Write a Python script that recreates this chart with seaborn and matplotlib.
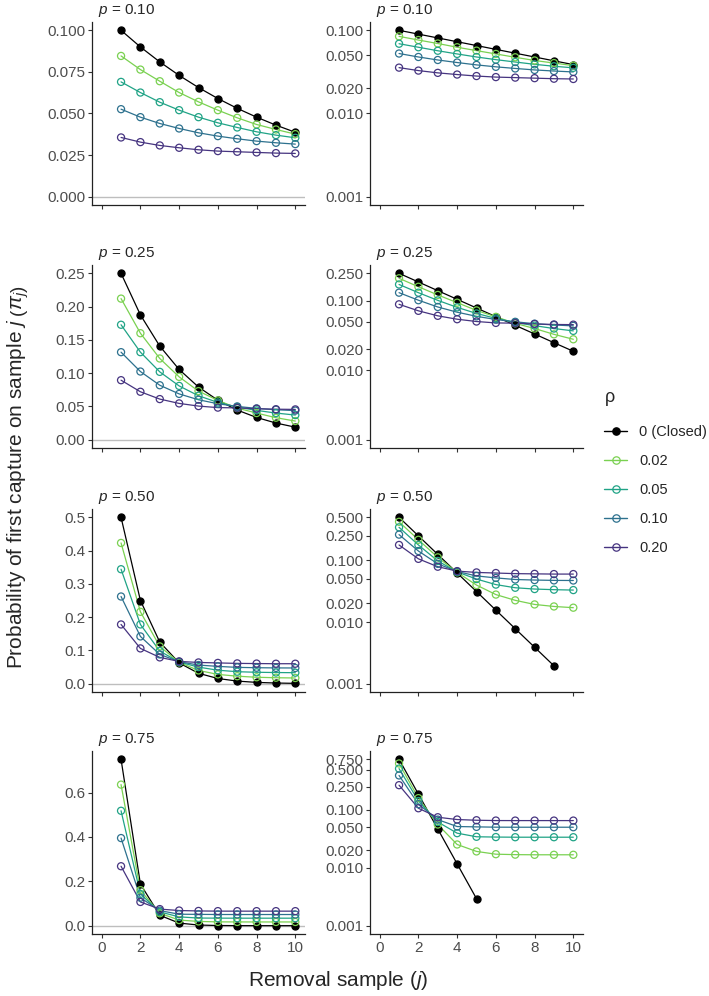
import numpy as np
import pandas as pd
import matplotlib
matplotlib.use("Agg")
import matplotlib.pyplot as plt
import seaborn as sns
from matplotlib.lines import Line2D
from matplotlib.ticker import FixedLocator, NullLocator, FormatStrFormatter

# removal samples and model settings
j_sample = [1, 2, 3, 4, 5, 6, 7, 8, 9, 10]
rho_labels = ["0 (Closed)", "0.02", "0.05", "0.10", "0.20"]
p_levels = [0.10, 0.25, 0.50, 0.75]
p_titles = ["0.10", "0.25", "0.50", "0.75"]

# probability of first capture on sample j, one row per rho
pi_p10 = [
    [0.1000, 0.0900, 0.0810, 0.0729, 0.0656, 0.0590, 0.0531, 0.0478, 0.0430, 0.0387],
    [0.0846, 0.0764, 0.0694, 0.0626, 0.0570, 0.0520, 0.0474, 0.0434, 0.0404, 0.0376],
    [0.0690, 0.0626, 0.0568, 0.0520, 0.0478, 0.0444, 0.0416, 0.0390, 0.0370, 0.0354],
    [0.0526, 0.0478, 0.0440, 0.0410, 0.0384, 0.0364, 0.0348, 0.0334, 0.0324, 0.0316],
    [0.0356, 0.0328, 0.0308, 0.0294, 0.0282, 0.0274, 0.0270, 0.0266, 0.0262, 0.0260],
]
pi_p25 = [
    [0.2500, 0.1875, 0.1406, 0.1055, 0.0791, 0.0593, 0.0445, 0.0334, 0.0250, 0.0188],
    [0.2120, 0.1600, 0.1220, 0.0944, 0.0730, 0.0590, 0.0475, 0.0400, 0.0330, 0.0280],
    [0.1727, 0.1315, 0.1019, 0.0808, 0.0660, 0.0560, 0.0490, 0.0440, 0.0400, 0.0370],
    [0.1315, 0.1024, 0.0818, 0.0688, 0.0600, 0.0540, 0.0500, 0.0470, 0.0450, 0.0437],
    [0.0894, 0.0720, 0.0610, 0.0545, 0.0505, 0.0482, 0.0478, 0.0465, 0.0458, 0.0455],
]
pi_p50 = [
    [0.5000, 0.2500, 0.1250, 0.0625, 0.03125, 0.0156, 0.0078, 0.0039, 0.00195, 0.00098],
    [0.4230, 0.2160, 0.1120, 0.0640, 0.0398, 0.0279, 0.0225, 0.0193, 0.0179, 0.0171],
    [0.3440, 0.1780, 0.0980, 0.0650, 0.0498, 0.0405, 0.0360, 0.0343, 0.0335, 0.0330],
    [0.2620, 0.1420, 0.0880, 0.0660, 0.0560, 0.0520, 0.0490, 0.0480, 0.0474, 0.0472],
    [0.1780, 0.1060, 0.0790, 0.0670, 0.0638, 0.0624, 0.0610, 0.0605, 0.0600, 0.0600],
]
pi_p75 = [
    [0.7500, 0.1875, 0.0469, 0.0117, 0.00293, 0.00073, 0.00018, 0.000046, 0.000011, 0.000003],
    [0.6360, 0.1600, 0.0560, 0.0253, 0.0192, 0.0172, 0.0169, 0.0168, 0.0168, 0.0168],
    [0.5180, 0.1430, 0.0620, 0.0397, 0.0344, 0.0340, 0.0338, 0.0338, 0.0338, 0.0338],
    [0.3950, 0.1260, 0.0680, 0.0517, 0.0510, 0.0504, 0.0503, 0.0503, 0.0503, 0.0503],
    [0.2680, 0.1070, 0.0748, 0.0683, 0.0664, 0.0656, 0.0655, 0.0655, 0.0655, 0.0655],
]

lin_breaks = [
    [0.000, 0.025, 0.050, 0.075, 0.100],
    [0.00, 0.05, 0.10, 0.15, 0.20, 0.25],
    [0.0, 0.1, 0.2, 0.3, 0.4, 0.5],
    [0.0, 0.2, 0.4, 0.6],
]
lin_fmt = ["%.3f", "%.2f", "%.1f", "%.1f"]
log_breaks = [0.001, 0.010, 0.020, 0.050, 0.100, 0.250, 0.500, 0.750]

# closed = black, open models = viridis (reversed, trimmed at both ends)
vir = sns.color_palette("viridis", as_cmap=True)
palette = {
    "0 (Closed)": "black",
    "0.02": vir(0.80),
    "0.05": vir(0.58),
    "0.10": vir(0.37),
    "0.20": vir(0.15),
}

# long table
rows = []
for p, block in zip(p_levels, [pi_p10, pi_p25, pi_p50, pi_p75]):
    for rho, vals in zip(rho_labels, block):
        for j, v in zip(j_sample, vals):
            rows.append({"p": p, "rho": rho, "j": j, "pi": v})
df = pd.DataFrame(rows)

sns.set_style("ticks")
plt.rcParams["font.family"] = ["Liberation Sans", "DejaVu Sans"]
plt.rcParams["mathtext.fontset"] = "custom"
plt.rcParams["mathtext.rm"] = "Liberation Sans"
plt.rcParams["mathtext.it"] = "Liberation Sans:italic"

W, H = 709, 996
fig = plt.figure(figsize=(W / 100, H / 100), dpi=100)


def px_axes(x, y, w, h):
    return fig.add_axes([x / W, 1 - (y + h) / H, w / W, h / H])


col_x = [92, 370]
row_y = [22, 265, 509, 751]
pw, ph = 213, 183

for r, p in enumerate(p_levels):
    for c in range(2):
        is_log = c == 1
        ax = px_axes(col_x[c], row_y[r], pw, ph)
        sub_p = df[df["p"] == p]

        if not is_log:
            ax.axhline(0, color="#BEBEBE", linewidth=1.0, zorder=0)

        # lines first, then points (like ggplot layers)
        for rho in rho_labels:
            sub = sub_p[sub_p["rho"] == rho]
            y = sub["pi"]
            if is_log:
                y = y.where(y >= 0.001)
            sns.lineplot(x=sub["j"], y=y, ax=ax, color=palette[rho],
                         linewidth=0.9, estimator=None, legend=False)
        for rho in rho_labels:
            sub = sub_p[sub_p["rho"] == rho]
            y = sub["pi"]
            if is_log:
                y = y.where(y >= 0.001)
            col = palette[rho]
            sns.scatterplot(x=sub["j"], y=y, ax=ax, marker="o", s=26,
                            facecolor=(col if rho == "0 (Closed)" else "none"),
                            edgecolor=col, linewidth=0.9, legend=False, zorder=3)

        ax.set_xlim(-0.5, 10.5)
        ax.set_xticks([0, 2, 4, 6, 8, 10])
        if is_log:
            ax.set_yscale("log")
            lo, hi = -3.0, np.log10(p)
            pad = 0.05 * (hi - lo)
            ax.set_ylim(10 ** (lo - pad), 10 ** (hi + pad))
            ax.yaxis.set_major_locator(FixedLocator([b for b in log_breaks if b <= p + 1e-9]))
            ax.yaxis.set_major_formatter(FormatStrFormatter("%.3f"))
            ax.yaxis.set_minor_locator(NullLocator())
        else:
            ax.set_ylim(-0.05 * p, 1.05 * p)
            ax.set_yticks(lin_breaks[r])
            ax.yaxis.set_major_formatter(FormatStrFormatter(lin_fmt[r]))

        ax.set_xlabel("")
        ax.set_ylabel("")
        sns.despine(ax=ax)
        for s in ["left", "bottom"]:
            ax.spines[s].set_linewidth(0.9)
            ax.spines[s].set_color("#222222")
        ax.tick_params(length=3, width=0.8, color="#333333", labelsize=11,
                       labelcolor="#4D4D4D", pad=2)
        if r < 3:
            ax.tick_params(axis="x", labelbottom=False)

        ax.text(6 / pw, 1 + 8 / ph, r"$p$ = " + p_titles[r], transform=ax.transAxes,
                ha="left", va="baseline", fontsize=11)

# axis titles
fig.text(18 / W, 1 - 477 / H,
         r"Probability of first capture on sample $j\;\left(\pi_j\right)$",
         rotation=90, ha="center", va="center", fontsize=15)
fig.text(338 / W, 1 - 980 / H, r"Removal sample $\left(j\right)$",
         ha="center", va="center", fontsize=15)

# legend
fig.text(605 / W, 1 - 398 / H, "ρ", ha="left", va="center", fontsize=13)
handles = []
for rho in rho_labels:
    col = palette[rho]
    handles.append(Line2D([], [], color=col, linewidth=1.0, marker="o", markersize=5.3,
                          markerfacecolor=(col if rho == "0 (Closed)" else "none"),
                          markeredgecolor=col, markeredgewidth=0.9))
fig.legend(handles, rho_labels, loc="upper left",
           bbox_to_anchor=(604 / W, 1 - 425 / H), frameon=False, fontsize=10.5,
           handlelength=1.6, handletextpad=0.8,
           labelspacing=1.03, alignment="left", borderaxespad=0, borderpad=0)

plt.savefig("out.png", dpi=100)
